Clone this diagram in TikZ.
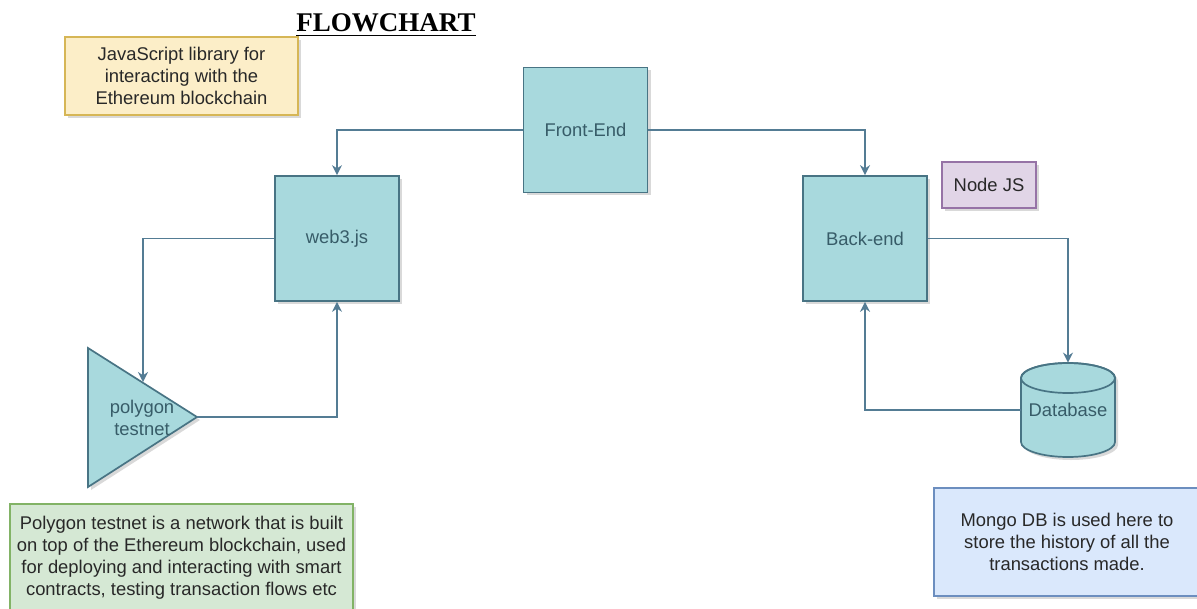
\documentclass[tikz,border=0pt]{standalone}
\usepackage{fontspec}
\setmainfont{Liberation Sans}
\newfontfamily\headfont{Liberation Serif}
\usepackage{xcolor}
\usepackage{tikz}
\usetikzlibrary{arrows.meta, positioning, shadows}

\definecolor{tealfill}{RGB}{168,217,221}
\definecolor{tealline}{RGB}{72,116,132}
\definecolor{tealtext}{RGB}{55,92,104}
\definecolor{linkcol}{RGB}{84,124,148}
\definecolor{notetext}{RGB}{40,40,40}
\definecolor{jsfill}{RGB}{252,238,200}
\definecolor{jsline}{RGB}{214,182,86}
\definecolor{nodejsfill}{RGB}{225,213,231}
\definecolor{nodejsline}{RGB}{150,115,166}
\definecolor{polyfill}{RGB}{213,232,212}
\definecolor{polyline}{RGB}{130,179,102}
\definecolor{mongofill}{RGB}{218,232,252}
\definecolor{mongoline}{RGB}{108,142,191}

\begin{document}
\begin{tikzpicture}[
        x=0.5pt, y=-0.5pt,
        every node/.style={inner sep=0pt, font=\fontsize{9.2}{11}\selectfont},
        softshadow/.style={drop shadow={shadow xshift=1.5pt, shadow yshift=-1.5pt, fill=black, opacity=0.15}},
        block/.style={rectangle, draw=tealline, line width=0.85pt, fill=tealfill, text=tealtext,
            minimum width=62pt, minimum height=62.5pt, softshadow},
        tealshape/.style={draw=tealline, line width=0.85pt, fill=tealfill, softshadow},
        note/.style={rectangle, line width=0.6pt, text=notetext, align=center, softshadow},
        link/.style={draw=linkcol, line width=0.75pt, -{Stealth[length=5pt, width=5pt]}}
    ]
    \fill[white] (0,0) rectangle (1197,609);
    \useasboundingbox (0,0) rectangle (1197,609);

    % title
    \node[anchor=base, font=\headfont\bfseries\fontsize{13.5}{16}\selectfont] (title) at (386,32) {\underline{FLOWCHART}};

    % main blocks
    \node[block] (front) at (585.5,130) {Front-End};
    \node[block] (web3) at (337,238.5) {web3.js};
    \node[block] (back) at (865,238.5) {Back-end};

    % polygon testnet
    \draw[tealshape] (88,348) -- (197,417) -- (88,487) -- cycle;
    \coordinate (polytip) at (197,417);
    \coordinate (polytop) at (143,382);
    \node[text=tealtext, align=center] (poly) at (142,418) {polygon\\testnet};

    % database
    \path[tealshape] (1021,378) -- (1021,442) arc[start angle=180, end angle=0, x radius=47, y radius=15]
        -- (1115,378) arc[start angle=0, end angle=-180, x radius=47, y radius=15] -- cycle;
    \draw[draw=tealline, line width=0.85pt] (1068,378) ellipse[x radius=47, y radius=15];
    \node[text=tealtext, minimum width=47pt, minimum height=47pt] (db) at (1068,410) {Database};

    % notes
    \node[note, fill=jsfill, draw=jsline, minimum width=116.5pt, minimum height=39pt] (jsnote) at (181.5,76)
        {JavaScript library for\\interacting with the\\Ethereum blockchain};
    \node[note, fill=nodejsfill, draw=nodejsline, minimum width=47pt, minimum height=23pt] (nodejs) at (989,185) {Node JS};
    \node[note, fill=polyfill, draw=polyline, minimum width=171.5pt, minimum height=54pt] (polynote) at (181.5,558)
        {Polygon testnet is a network that is built\\on top of the Ethereum blockchain, used\\for deploying and interacting with smart\\contracts, testing transaction flows etc};
    \node[note, fill=mongofill, draw=mongoline, minimum width=133pt, minimum height=54pt] (mongonote) at (1067,542)
        {Mongo DB is used here to\\store the history of all the\\transactions made.};

    % connectors
    \draw[link] (front.west) -| (web3.north);
    \draw[link] (front.east) -| (back.north);
    \draw[link] (web3.west) -| (polytop);
    \draw[link] (polytip) -| (web3.south);
    \draw[link] (back.east) -| (db.north);
    \draw[link] (db.west) -| (back.south);

\end{tikzpicture}
\end{document}
